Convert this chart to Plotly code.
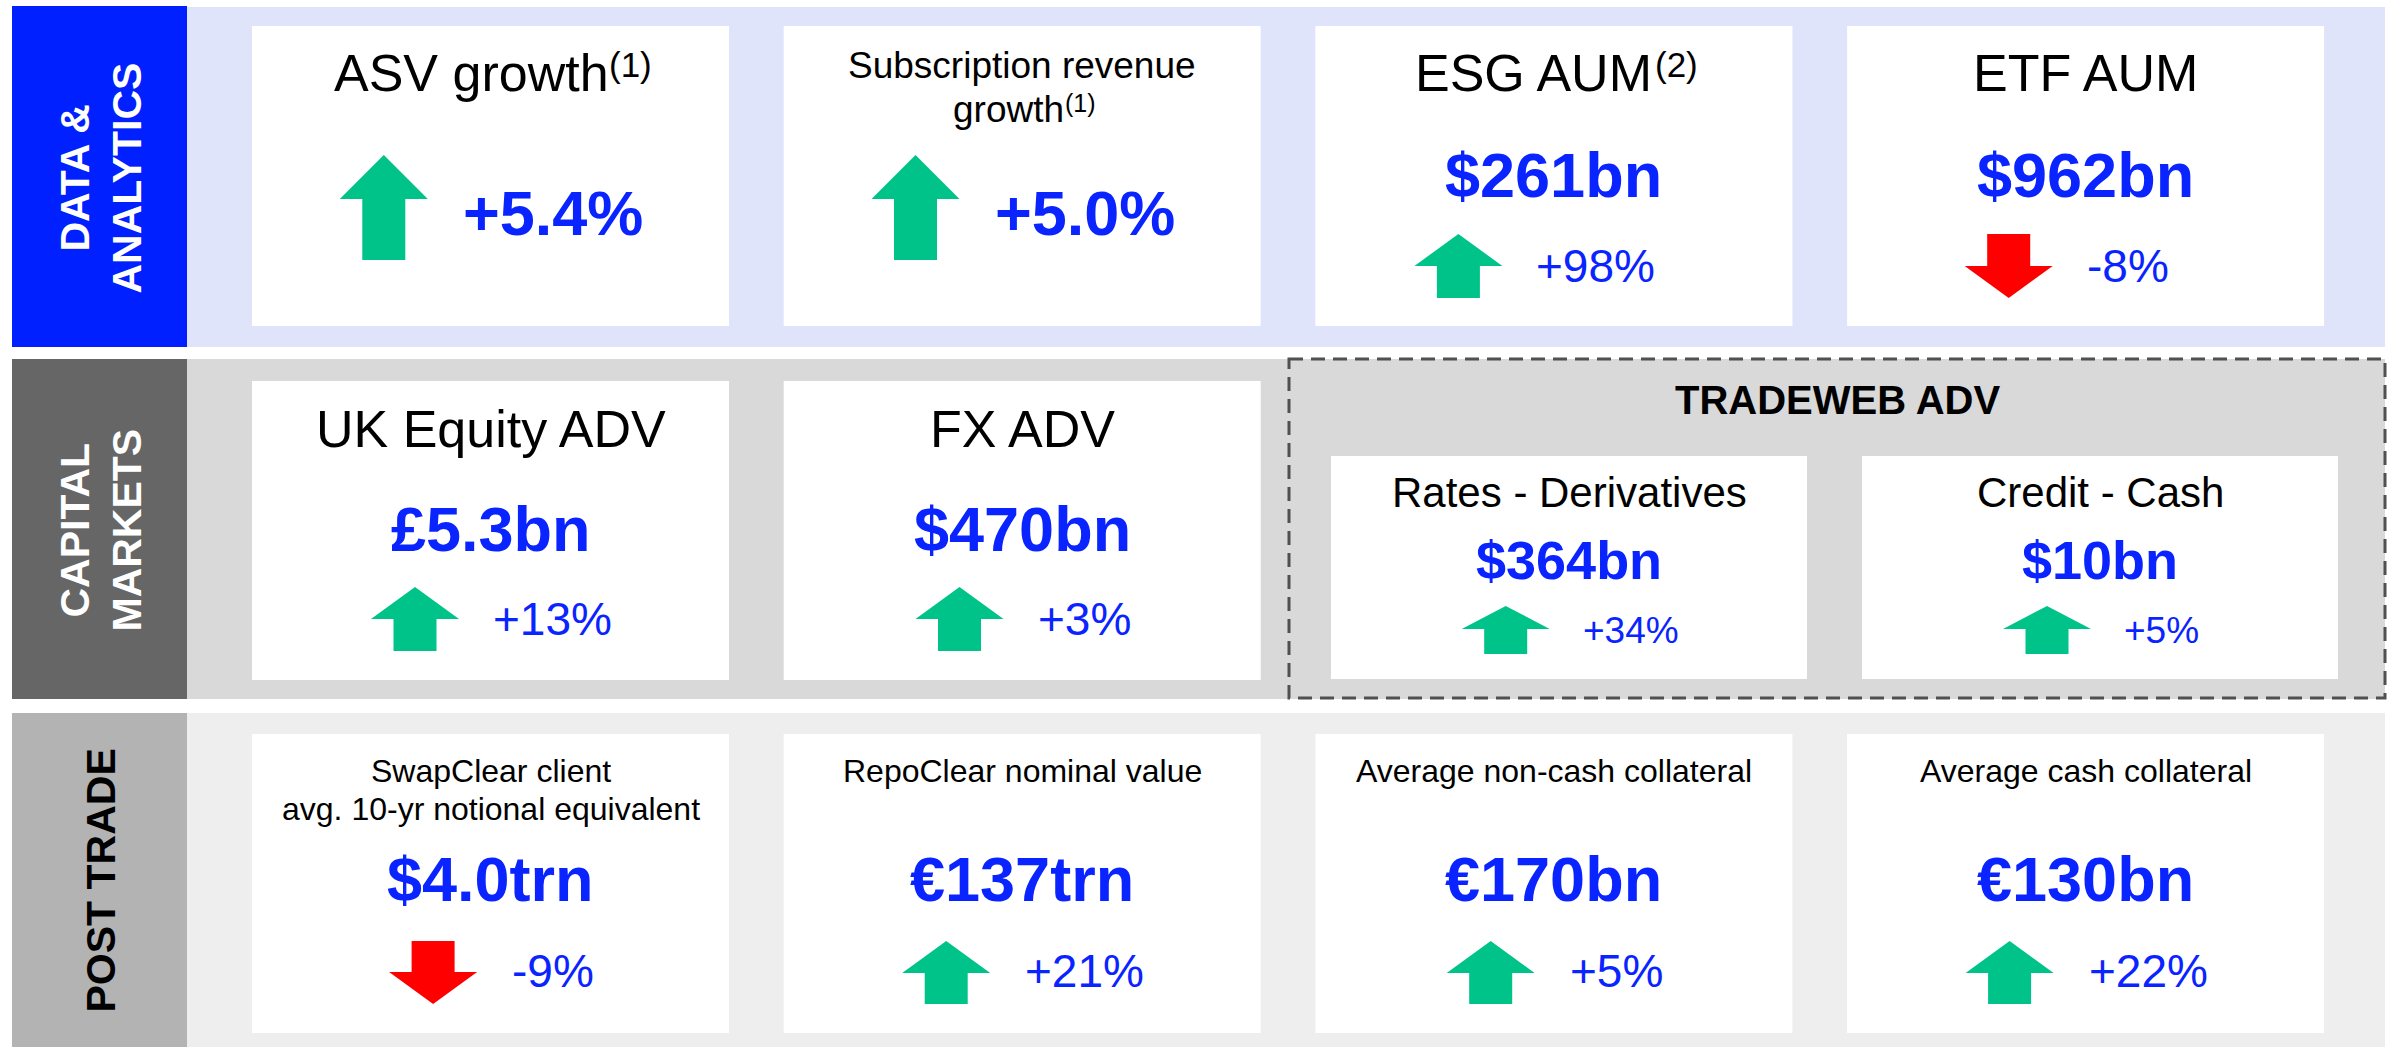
import plotly.graph_objects as go

W, H = 2400, 1047
FONT = "Arial, Liberation Sans, sans-serif"
TXT_BLUE = "#0a24ff"
GREEN = "#00c389"
RED = "#ff0000"

# ---------------- data ----------------
SECTION_LABELS = [["DATA &", "ANALYTICS"], ["CAPITAL", "MARKETS"], ["POST TRADE"]]

DA_TITLES = [["ASV growth"],
             ["Subscription revenue", "growth"],
             ["ESG AUM"],
             ["ETF AUM"]]
DA_NOTES = ["(1)", "(1)", "(2)", ""]
DA_VALUES = ["", "", "$261bn", "$962bn"]
DA_CHANGES = ["+5.4%", "+5.0%", "+98%", "-8%"]

CM_TITLES = ["UK Equity ADV", "FX ADV"]
CM_VALUES = ["£5.3bn", "$470bn"]
CM_CHANGES = ["+13%", "+3%"]

TW_HEADER = "TRADEWEB ADV"
TW_TITLES = ["Rates - Derivatives", "Credit - Cash"]
TW_VALUES = ["$364bn", "$10bn"]
TW_CHANGES = ["+34%", "+5%"]

PT_TITLES = [["SwapClear client", "avg. 10-yr notional equivalent"],
             ["RepoClear nominal value"],
             ["Average non-cash collateral"],
             ["Average cash collateral"]]
PT_VALUES = ["$4.0trn", "€137trn", "€170bn", "€130bn"]
PT_CHANGES = ["-9%", "+21%", "+5%", "+22%"]

# ---------------- helpers ----------------
shapes = []
annotations = []

# Arial (Liberation Sans) advance widths, em units
CHAR_W = {"+": 0.584, "-": 0.333, "%": 0.889, ".": 0.278, " ": 0.278, "(": 0.333, ")": 0.333,
          "A": 0.667, "S": 0.667, "V": 0.667, "E": 0.667, "G": 0.778, "U": 0.722, "M": 0.833,
          "T": 0.611, "F": 0.611, "g": 0.556, "r": 0.333, "o": 0.556, "w": 0.722, "t": 0.278,
          "h": 0.556}


def text_width(s, size):
    return sum(CHAR_W.get(c, 0.556) for c in s) * size


def rect(x0, y0, x1, y1, fill, line_color=None, line_width=0, dash=None):
    line = dict(width=line_width)
    if line_color:
        line["color"] = line_color
    if dash:
        line["dash"] = dash
    shapes.append(dict(type="rect", xref="x", yref="y", x0=x0, y0=y0, x1=x1, y1=y1,
                       fillcolor=fill, line=line, layer="below"))


def text(x, y, s, size, color="black", bold=False, xanchor="center", yanchor="middle", angle=0):
    if bold:
        s = "<b>" + s + "</b>"
    annotations.append(dict(x=x, y=y, xref="x", yref="y", text=s, showarrow=False,
                            xanchor=xanchor, yanchor=yanchor, textangle=angle,
                            font=dict(family=FONT, size=size, color=color)))


def title_with_note(cx, y, s, size, note):
    if not note:
        text(cx, y, s, size)
        return
    ns = round(size * 0.68)
    wm = text_width(s, size)
    wn = text_width(note, ns)
    left = cx - (wm + wn) / 2
    text(left, y, s, size, xanchor="left")
    text(left + wm + 1, y - size * 0.16, note, ns, xanchor="left")


def arrow(cx, y0, h, head, up, w=88, sw=43):
    y1 = y0 + h
    if up:
        yh = y0 + head
        pts = [(cx - sw / 2, y1), (cx - sw / 2, yh), (cx - w / 2, yh), (cx, y0),
               (cx + w / 2, yh), (cx + sw / 2, yh), (cx + sw / 2, y1)]
        col = GREEN
    else:
        yh = y1 - head
        pts = [(cx - sw / 2, y0), (cx - sw / 2, yh), (cx - w / 2, yh), (cx, y1),
               (cx + w / 2, yh), (cx + sw / 2, yh), (cx + sw / 2, y0)]
        col = RED
    path = "M " + " L ".join(f"{px:.1f},{py:.1f}" for px, py in pts) + " Z"
    shapes.append(dict(type="path", xref="x", yref="y", path=path, fillcolor=col,
                       line=dict(width=0), layer="above"))


def change_group(cx, change, size, ay0, ah, ahead, ty, bold=False, gap=32, aw=88):
    up = not change.startswith("-")
    tw = text_width(change, size)
    total = aw + gap + tw
    left = cx - total / 2
    arrow(left + aw / 2, ay0, ah, ahead, up, w=aw)
    text(left + aw + gap, ty, change, size, TXT_BLUE, bold=bold, xanchor="left")


# ---------------- layout geometry ----------------
CARD_LEFT = 252
CARD_PITCH = 531.7
CARD_W = 477
LABEL_X0, LABEL_X1 = 12, 187
BAND_X1 = 2385

SEC_Y = [(7, 347), (359, 699), (713, 1047)]
LABEL_FILL = ["#0020ff", "#666666", "#b3b3b3"]
BAND_FILL = ["#e0e4fb", "#d9d9d9", "#eeeeee"]
LABEL_TXT = ["white", "white", "black"]

for k in range(3):
    y0, y1 = SEC_Y[k]
    rect(163 if k else LABEL_X1, y0, BAND_X1, y1, BAND_FILL[k])
    rect(LABEL_X0, y0 - (1 if k == 0 else 0), LABEL_X1, y1, LABEL_FILL[k])
    lines = SECTION_LABELS[k]
    xc = (LABEL_X0 + LABEL_X1) / 2 + 1
    for j, ln in enumerate(lines):
        xl = xc + (j - (len(lines) - 1) / 2) * 52
        text(xl, (y0 + y1) / 2 + 1, ln, 41, LABEL_TXT[k], bold=True, angle=-90)

# ---- Data & Analytics ----
for i in range(4):
    x0 = CARD_LEFT + i * CARD_PITCH
    cx = x0 + CARD_W / 2
    rect(x0, 26, x0 + CARD_W, 326, "white")
    lines = DA_TITLES[i]
    if len(lines) == 1:
        title_with_note(cx, 73, lines[0], 52, DA_NOTES[i])
    else:
        for j, ln in enumerate(lines):
            note = DA_NOTES[i] if j == len(lines) - 1 else ""
            title_with_note(cx, 65 + j * 44, ln, 37, note)
    if DA_VALUES[i]:
        text(cx, 175, DA_VALUES[i], 63, TXT_BLUE, bold=True)
        change_group(cx - 20, DA_CHANGES[i], 46, 234, 64, 32, 266)
    else:
        change_group(cx, DA_CHANGES[i], 63, 155, 105, 44, 213, bold=True, gap=33)

# ---- Capital Markets ----
for i in range(2):
    x0 = CARD_LEFT + i * CARD_PITCH
    cx = x0 + CARD_W / 2
    rect(x0, 381, x0 + CARD_W, 680, "white")
    text(cx, 429, CM_TITLES[i], 52)
    text(cx, 529, CM_VALUES[i], 63, TXT_BLUE, bold=True)
    change_group(cx, CM_CHANGES[i], 46, 587, 64, 32, 619)

# Tradeweb dashed group
rect(1289, 359, 2385, 698, "#d9d9d9", line_color="#505050", line_width=3, dash="14px,8px")
text(1837, 400, TW_HEADER, 40, "black", bold=True)
TW_X = [1331, 1862]
for i in range(2):
    x0 = TW_X[i]
    cx = x0 + 476 / 2
    rect(x0, 456, x0 + 476, 679, "white")
    text(cx, 492, TW_TITLES[i], 42)
    text(cx, 560, TW_VALUES[i], 54, TXT_BLUE, bold=True)
    change_group(cx, TW_CHANGES[i], 37, 606, 48, 23, 630, gap=31)

# ---- Post Trade ----
for i in range(4):
    x0 = CARD_LEFT + i * CARD_PITCH
    cx = x0 + CARD_W / 2
    rect(x0, 734, x0 + CARD_W, 1033, "white")
    for j, ln in enumerate(PT_TITLES[i]):
        text(cx, 771 + j * 38, ln, 32)
    text(cx, 879, PT_VALUES[i], 63, TXT_BLUE, bold=True)
    change_group(cx, PT_CHANGES[i], 46, 941, 63, 32, 971, gap=33)

fig = go.Figure()
fig.update_layout(
    width=W, height=H,
    margin=dict(l=0, r=0, t=0, b=0),
    paper_bgcolor="white", plot_bgcolor="white",
    xaxis=dict(range=[0, W], visible=False, fixedrange=True),
    yaxis=dict(range=[H, 0], visible=False, fixedrange=True),
    shapes=shapes, annotations=annotations, showlegend=False,
)
fig.write_html("out.html", config={"displayModeBar": False},
               post_script="document.body.style.margin='0px';document.body.style.overflow='hidden';")
